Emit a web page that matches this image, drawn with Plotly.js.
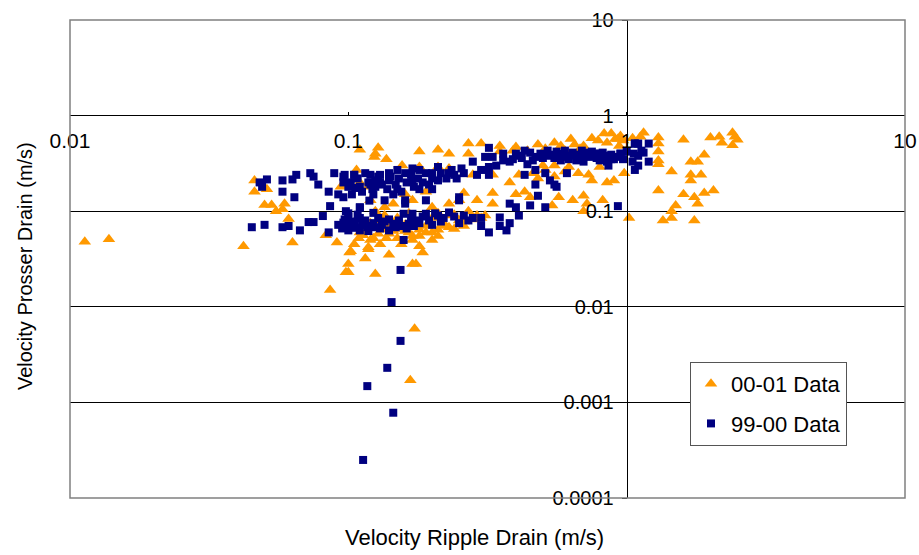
<!DOCTYPE html>
<html>
<head>
<meta charset="utf-8">
<script src="https://cdn.plot.ly/plotly-3.0.1.min.js"></script>
<style>html,body{margin:0;padding:0;background:#fff;}#chart{width:919px;height:555px;}</style>
</head>
<body>
<div id="chart"></div>
<script>
// ---- Data ----
const seriesNames = ["00-01 Data", "99-00 Data"];

const orangeX = [
  0.0113,0.0138,0.042,0.046,0.046,0.051,0.050,0.053,0.055,0.059,0.058,0.061,0.063,0.083,0.091,0.086,0.098,0.100,0.101,
  0.11,0.125,0.107,0.11,0.118,0.094,0.113,0.118,0.125,0.123,0.128,0.124,0.137,0.18,0.21,0.23,0.27,0.27,0.30,0.35,0.39,
  0.44,0.55,0.63,0.75,0.83,0.91,1.15,0.51,0.60,0.70,0.79,0.94,0.156,0.18,0.21,0.23,0.28,0.33,0.41,0.46,0.51,0.60,0.67,
  0.73,0.80,0.90,0.98,0.33,0.40,0.43,0.45,0.57,0.64,0.70,0.72,0.54,0.70,1.02,0.29,0.26,0.25,0.33,0.27,
  0.102,0.109,0.118,0.128,0.137,0.145,0.16,0.18,0.185,0.175,0.2,0.21,0.23,0.24,0.21,0.2,0.29,0.18,0.155,0.137,0.11,
  0.135,0.15,0.17,0.19,0.16,0.12,0.14,0.16,0.19,0.22,0.25,0.17,0.2,0.15,0.13,0.26,0.3,0.23,0.105,0.165,0.125,
  0.173,0.167,0.17,0.1,
  0.88,0.95,0.93,1.12,1.3,1.3,1.3,1.3,1.3,1.6,2.0,2.15,2.2,2.4,2.45,2.5,2.4,1.9,1.7,1.8,1.45,1.7,1.7,1.85,1.3,1.6,
  1.9,2.05,1.75,1.8,1.5,1.45,1.45,1.35,1.75,0.82,
  0.105,0.112,0.12,0.13,0.14,0.15,0.155,0.165,0.17,0.18,0.19,0.21,0.22,0.24,0.26,0.28,0.31,0.115,0.14,
  0.35,0.4,0.48,0.58,0.65,0.68,0.85,0.97,1.05,0.5,0.55,0.62,0.38,0.48,0.55,0.85,0.75,
  0.12,0.135,0.145,0.2,0.23
];
const orangeY = [
  0.048,0.051,0.043,0.21,0.16,0.17,0.116,0.116,0.10,0.12,0.105,0.083,0.047,0.056,0.047,0.015,0.023,0.028,0.037,
  0.44,0.40,0.27,0.20,0.18,0.18,0.056,0.040,0.022,0.052,0.46,0.37,0.35,0.42,0.44,0.40,0.40,0.51,0.51,0.48,0.43,
  0.43,0.52,0.57,0.58,0.65,0.57,0.66,0.45,0.43,0.48,0.55,0.48,0.30,0.29,0.29,0.28,0.24,0.24,0.24,0.25,0.27,0.26,0.25,
  0.24,0.29,0.21,0.25,0.155,0.15,0.16,0.14,0.14,0.13,0.145,0.12,0.115,0.10,0.085,0.13,0.155,0.13,0.12,0.10,
  0.038,0.052,0.042,0.058,0.052,0.062,0.062,0.043,0.037,0.028,0.06,0.064,0.09,0.092,0.095,0.085,0.09,0.064,0.065,0.064,0.06,
  0.09,0.085,0.13,0.16,0.15,0.075,0.07,0.072,0.07,0.075,0.08,0.055,0.05,0.052,0.08,0.07,0.085,0.068,0.07,0.095,0.1,
  0.0059,0.0017,0.028,0.023,
  0.65,0.61,0.57,0.60,0.59,0.51,0.42,0.34,0.31,0.56,0.59,0.60,0.52,0.66,0.60,0.56,0.49,0.39,0.33,0.33,0.26,0.24,0.21,0.24,0.165,0.15,
  0.155,0.165,0.14,0.12,0.115,0.10,0.085,0.08,0.08,0.13,
  0.045,0.065,0.05,0.045,0.058,0.068,0.045,0.06,0.05,0.055,0.06,0.055,0.07,0.065,0.078,0.082,0.09,0.032,0.035,
  0.42,0.47,0.5,0.48,0.5,0.45,0.52,0.55,0.58,0.3,0.3,0.29,0.2,0.22,0.23,0.2,0.21,
  0.13,0.11,0.12,0.11,0.12
];

const navyX = [
  0.045,0.050,0.058,0.061,0.067,0.072,0.075,0.081,0.085,0.086,0.048,0.051,0.049,0.058,0.058,0.064,0.063,0.065,0.073,0.075,
  0.078,0.085,0.089,0.092,0.096,0.096,0.105,0.103,0.098,0.1,0.102,0.106,0.117,0.11,0.119,0.12,0.106,0.12,
  0.32,0.31,0.28,0.30,0.32,0.33,0.36,0.39,0.43,0.45,0.49,0.52,0.57,0.60,0.63,0.69,0.70,0.77,0.83,0.90,0.95,1.07,1.13,1.07,
  0.43,0.47,0.47,0.48,0.51,0.53,0.55,0.56,0.61,0.51,0.45,0.41,0.40,0.38,0.38,0.37,0.35,0.35,0.32,0.30,0.30,0.28,0.25,0.25,
  0.29,0.32,0.26,0.24,0.23,0.21,0.21,0.20,0.20,0.18,0.17,0.17,0.16,0.15,0.14,0.14,0.13,0.13,0.125,0.125,0.11,0.105,0.097,
  0.096,0.10,0.18,0.19,0.15,0.16,0.145,0.135,0.123,0.11,0.10,0.097,0.096,0.10,0.11,0.123,0.123,0.135,0.145,0.158,0.16,
  0.17,0.165,0.175,0.19,0.21,0.23,0.25,0.158,0.12,0.11,0.13,0.14,
  0.154,0.143,0.154,0.138,0.117,0.145,0.113,
  0.8,0.88,0.86,0.95,1.07,1.1,1.2,1.06,1.1,1.15,1.05,1.1,1.2,0.93,
  0.38,0.42,0.47,0.55,0.62,0.68,0.74,0.8,0.86,0.4,0.54,0.66,0.72,0.58,0.44,
  0.092,0.095,0.1,0.105,0.108,0.112,0.115,0.118,0.125,0.128,0.132,0.14,0.148,0.152,0.155,0.162,0.168,0.172,0.18,0.185,
  0.195,0.2,0.205,0.215,0.22,0.24,0.26,0.27,
  0.102,0.108,0.112,0.115,0.118,0.122,0.128,0.132,0.138,0.142,0.148,0.152,0.155,0.162,0.168,0.172,0.178,0.185,0.19,0.195,
  0.2,0.215,0.225,0.235,0.245,0.255,
  0.34,0.36,0.41,0.46,0.5,0.52,0.56,0.6,0.64,0.66,0.7,0.75,0.78,0.82,0.85,0.88,0.92,0.97,1.0
];
const navyY = [
  0.068,0.072,0.068,0.070,0.063,0.077,0.077,0.089,0.060,0.113,0.20,0.215,0.18,0.21,0.16,0.14,0.215,0.24,0.25,0.23,
  0.19,0.16,0.25,0.15,0.14,0.23,0.24,0.15,0.10,0.088,0.074,0.067,0.068,0.109,0.129,0.19,0.175,0.24,
  0.46,0.37,0.33,0.27,0.29,0.37,0.40,0.35,0.43,0.41,0.40,0.43,0.40,0.43,0.38,0.43,0.33,0.40,0.38,0.35,0.40,0.51,0.43,0.27,
  0.24,0.27,0.19,0.145,0.25,0.21,0.19,0.18,0.25,0.11,0.115,0.09,0.11,0.12,0.075,0.063,0.07,0.086,0.06,0.07,0.085,0.085,0.14,0.075,
  0.24,0.24,0.25,0.24,0.25,0.29,0.21,0.25,0.17,0.27,0.28,0.21,0.25,0.27,0.25,0.21,0.24,0.20,0.21,0.18,0.18,0.24,0.24,
  0.20,0.18,0.17,0.13,0.17,0.13,0.15,0.13,0.15,0.11,0.095,0.082,0.076,0.07,0.085,0.075,0.096,0.078,0.074,0.094,0.12,
  0.094,0.074,0.08,0.094,0.09,0.097,0.13,0.05,0.07,0.063,0.066,0.063,
  0.0243,0.0112,0.0044,0.0023,0.00148,0.00078,0.00025,
  0.40,0.35,0.30,0.40,0.51,0.51,0.51,0.40,0.38,0.41,0.33,0.30,0.33,0.113,
  0.33,0.36,0.37,0.36,0.35,0.36,0.37,0.34,0.37,0.40,0.39,0.39,0.41,0.34,0.31,
  0.072,0.066,0.063,0.078,0.092,0.072,0.08,0.062,0.068,0.085,0.072,0.082,0.068,0.08,0.07,0.066,0.085,0.07,0.075,0.088,
  0.08,0.072,0.095,0.078,0.085,0.088,0.09,0.08,
  0.2,0.22,0.16,0.25,0.2,0.17,0.23,0.19,0.17,0.23,0.19,0.22,0.16,0.2,0.24,0.18,0.22,0.2,0.25,0.19,
  0.22,0.25,0.22,0.27,0.22,0.28,
  0.30,0.34,0.38,0.34,0.36,0.38,0.42,0.37,0.41,0.34,0.39,0.42,0.36,0.41,0.33,0.39,0.37,0.35,0.42
];

const xTicks = [0.01, 0.1, 1, 10];
const xTickText = ["0.01", "0.1", "1", "10"];
const yTicks = [0.0001, 0.001, 0.01, 0.1, 1, 10];
const yTickText = ["0.0001", "0.001", "0.01", "0.1", "1", "10"];
const xTitle = "Velocity Ripple Drain (m/s)";
const yTitle = "Velocity Prosser Drain (m/s)";

// ---- Chart ----
const FONT = "Liberation Sans, Arial, sans-serif";

const traces = [
  {
    x: orangeX, y: orangeY, name: seriesNames[0], type: "scatter", mode: "markers",
    legendgroup: "a",
    marker: {symbol: "triangle-up", size: 11, color: "#FF9900", line: {width: 0}}
  },
  {
    x: navyX, y: navyY, name: seriesNames[1], type: "scatter", mode: "markers",
    legendgroup: "b",
    marker: {symbol: "square", size: 8, color: "#000080", line: {width: 0}}
  }
];

const layout = {
  width: 919, height: 555,
  margin: {l: 70, r: 14, t: 20, b: 57},
  paper_bgcolor: "#fff", plot_bgcolor: "#fff",
  font: {family: FONT, color: "#000"},
  showlegend: true,
  legend: {
    x: 0.7425, y: 0.2845, xanchor: "left", yanchor: "top",
    bgcolor: "#fff", bordercolor: "#555", borderwidth: 1,
    font: {family: FONT, size: 22, color: "#000"},
    traceorder: "grouped", tracegroupgap: 8
  },
  xaxis: {
    type: "log", range: [-2, 1], anchor: "free", position: 0.8,
    showgrid: false, zeroline: false,
    showline: false,
    ticks: "inside", ticklen: 4, tickcolor: "#000",
    tickvals: xTicks, ticktext: xTickText,
    ticklabelstandoff: 10,
    tickfont: {family: FONT, size: 21, color: "#000"},
    automargin: false
  },
  yaxis: {
    type: "log", range: [-4, 1], anchor: "free", position: 2/3,
    showgrid: true, gridcolor: "#000", gridwidth: 1, zeroline: false,
    showline: true, linecolor: "#000", linewidth: 1,
    ticks: "outside", ticklen: 5, tickcolor: "#000",
    tickvals: yTicks, ticktext: yTickText,
    ticklabelstandoff: 4,
    tickfont: {family: FONT, size: 20, color: "#000"},
    automargin: false
  },
  shapes: [
    {type: "rect", xref: "paper", yref: "paper", x0: 0, x1: 1, y0: 0, y1: 1,
     line: {color: "#808080", width: 1.5}, layer: "above"}
  ],
  annotations: [
    {text: xTitle, xref: "paper", yref: "paper", x: 0.484, y: -0.082,
     xanchor: "center", yanchor: "middle", showarrow: false,
     font: {family: FONT, size: 22, color: "#000"}},
    {text: yTitle, xref: "paper", yref: "paper", x: -0.054, y: 0.485,
     xanchor: "center", yanchor: "middle", showarrow: false, textangle: -90,
     font: {family: FONT, size: 20, color: "#000"}}
  ]
};

Plotly.newPlot("chart", traces, layout, {displayModeBar: false, staticPlot: true});
</script>
</body>
</html>
